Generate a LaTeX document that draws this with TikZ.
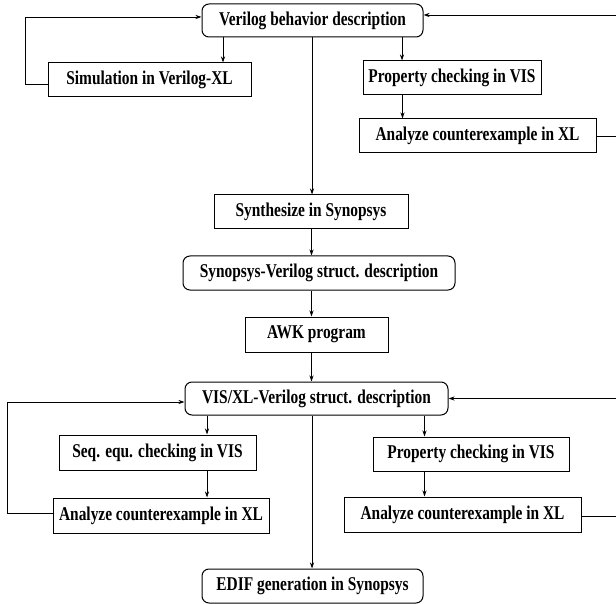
\documentclass[tikz,border=0pt]{standalone}
\usepackage{fontspec}
\usetikzlibrary{arrows.meta}
\newfontfamily\flowfont{Liberation Serif}[FakeStretch=0.79]
\tikzset{>={Stealth[length=6pt,width=4pt]}}
\tikzset{
  flowbox/.style={draw, line width=1pt, inner sep=0pt, align=center,
    font=\flowfont\bfseries\fontsize{19.5}{21}\selectfont},
  roundbox/.style={flowbox, rounded corners=7pt},
  link/.style={->, line width=0.9pt}
}

\begin{document}
\begin{tikzpicture}[x=1pt, y=-1pt]
    \useasboundingbox[fill=white] (0,0) rectangle (616,604);
    % behaviour level
    \node[roundbox, minimum width=221pt, minimum height=33pt] (vbd) at (312.5,20.5) {Verilog behavior description};
    \node[flowbox, minimum width=203pt, minimum height=34pt] (sim) at (149.5,80) {Simulation in Verilog-XL};
    \node[flowbox, minimum width=178pt, minimum height=34pt] (prop1) at (452,78) {Property checking in VIS};
    \node[flowbox, minimum width=237pt, minimum height=34pt] (ana1) at (477.5,136) {Analyze counterexample in XL};
    % synthesis chain
    \node[flowbox, minimum width=194pt, minimum height=34pt] (synth) at (311,212) {Synthesize in Synopsys};
    \node[roundbox, minimum width=272pt, minimum height=34pt] (svs) at (319,273) {Synopsys-Verilog struct. description};
    \node[flowbox, minimum width=143pt, minimum height=35pt] (awk) at (316.5,334.5) {AWK program};
    \node[roundbox, minimum width=263pt, minimum height=33pt] (vxs) at (316.5,398.5) {VIS/XL-Verilog struct. description};
    % structural level
    \node[flowbox, minimum width=197pt, minimum height=35pt] (seq) at (157.5,452.5) {Seq. equ. checking in VIS};
    \node[flowbox, minimum width=216pt, minimum height=35pt] (ana2) at (161,515.5) {Analyze counterexample in XL};
    \node[flowbox, minimum width=196pt, minimum height=34pt] (prop2) at (471,454) {Property checking in VIS};
    \node[flowbox, minimum width=237pt, minimum height=35pt] (ana3) at (462.5,514.5) {Analyze counterexample in XL};
    \node[roundbox, minimum width=221pt, minimum height=34pt] (edif) at (312.5,586) {EDIF generation in Synopsys};

    \draw[link] (vbd.south -| 223,0) -- (sim.north -| 223,0);
    \draw[link] (vbd.south -| 402,0) -- (prop1.north -| 402,0);
    \draw[link] (prop1.south -| 402.5,0) -- (ana1.north -| 402.5,0);
    \draw[link] ([yshift=-4pt]sim.west) -- ++(-22,0) |- ([yshift=3.5pt]vbd.west);
    \draw[link] (ana1.east) -- ++(21,0) |- ([yshift=5.5pt]vbd.east);
    \draw[link] (vbd.south -| 312,0) -- (synth.north -| 312,0);
    \draw[link] (synth.south -| 311.5,0) -- (svs.north -| 311.5,0);
    \draw[link] (svs.south -| 311.5,0) -- (awk.north -| 311.5,0);
    \draw[link] (awk.south -| 311.5,0) -- (vxs.north -| 311.5,0);
    %\draw[link] (vxs) -- (edif);
    \draw[link] (vxs.south -| 312,0) -- (edif.north -| 312,0);
    \draw[link] (vxs.south -| 207,0) -- (seq.north -| 207,0);
    \draw[link] (seq.south -| 207,0) -- (ana2.north -| 207,0);
    \draw[link] ([yshift=2.5pt]ana2.west) -- ++(-45,0) |- ([yshift=-3.5pt]vxs.west);
    \draw[link] (vxs.south -| 424.5,0) -- (prop2.north -| 424.5,0);
    \draw[link] (prop2.south -| 424.5,0) -- (ana3.north -| 424.5,0);
    \draw[link] ([yshift=-1.5pt]ana3.east) -- ++(36,0) |- (vxs.east);
\end{tikzpicture}
\end{document}
